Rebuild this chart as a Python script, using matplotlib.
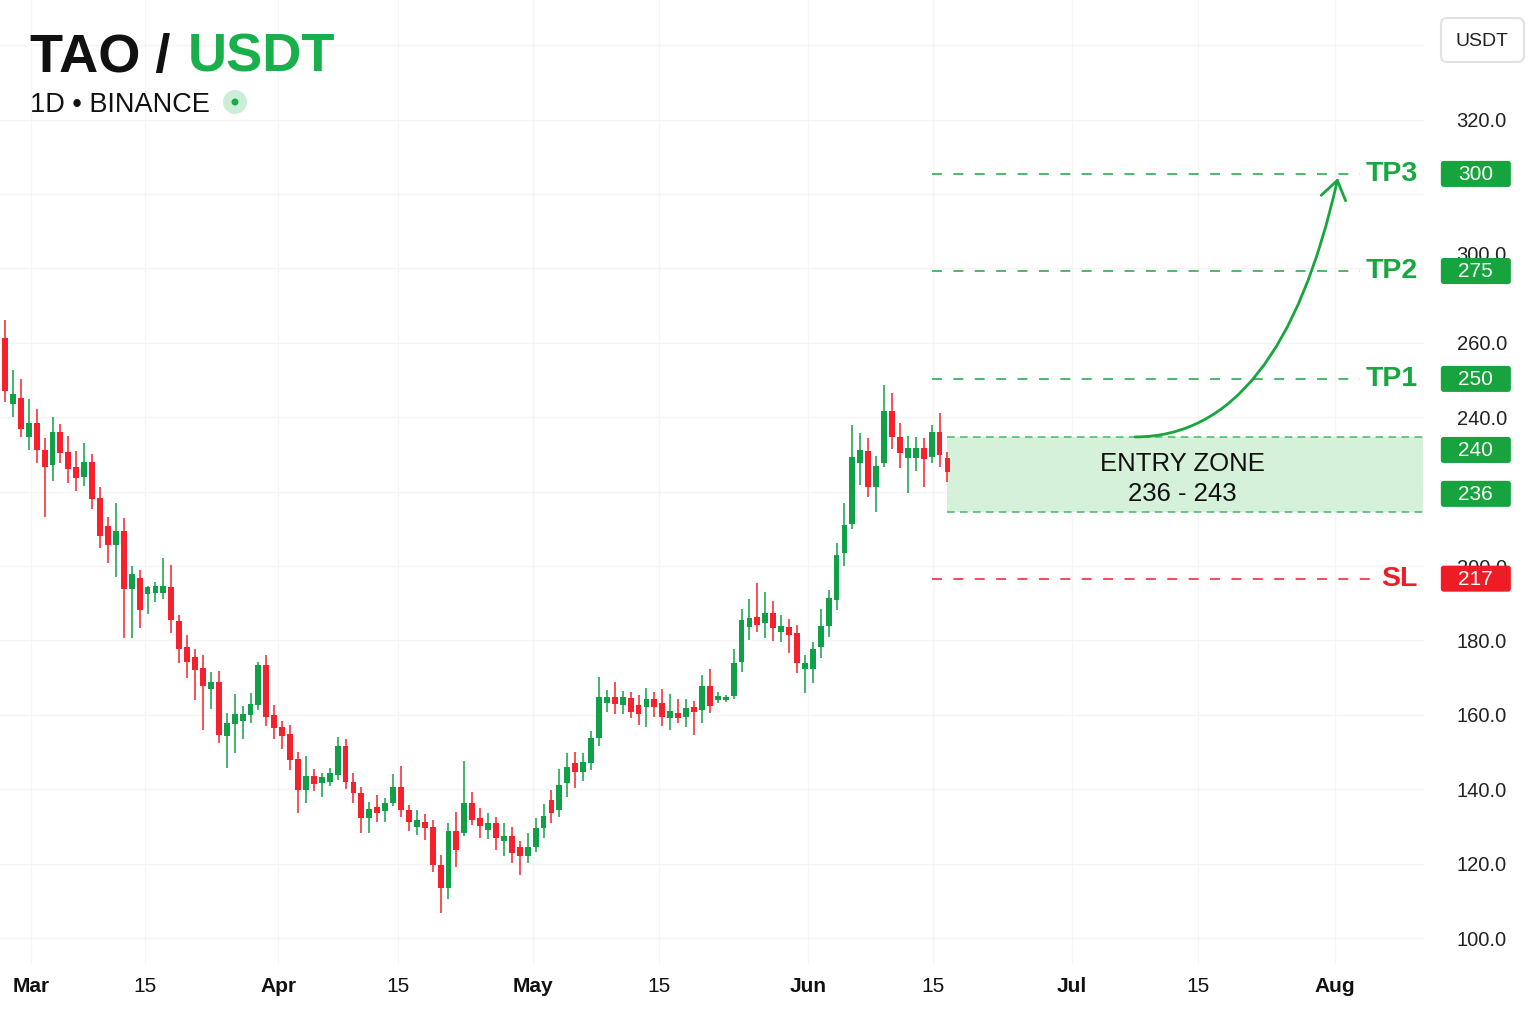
import matplotlib
matplotlib.use("Agg")
import matplotlib.pyplot as plt
from matplotlib.patches import FancyBboxPatch, FancyArrowPatch, Ellipse, Rectangle
from matplotlib.path import Path
import numpy as np

plt.rcParams['font.family'] = ['Liberation Sans', 'DejaVu Sans']

# ---------------- DATA ----------------
opens = [261.3, 243.6, 245.2, 234.7, 238.4, 231.2, 227.1, 236.0, 230.7, 226.6,
         223.9, 228.0, 218.3, 210.8, 205.6, 209.4, 193.8, 196.8, 192.5, 192.8,
         192.8, 194.3, 185.2, 178.2, 175.5, 172.6, 166.9, 168.8, 154.3, 157.5,
         158.3, 159.9, 162.6, 173.4, 159.9, 156.7, 154.9, 148.1, 139.8, 143.6,
         141.7, 141.9, 143.8, 151.6, 141.9, 139.0, 132.3, 135.2, 134.1, 136.3,
         140.6, 134.4, 129.9, 131.2, 129.9, 119.6, 113.5, 128.8, 128.2, 136.3,
         132.3, 129.1, 130.9, 126.1, 127.4, 124.5, 122.1, 124.5, 129.6, 137.1,
         134.4, 141.7, 147.1, 144.6, 147.1, 153.8, 163.2, 164.8, 162.6, 164.5,
         162.6, 162.1, 164.2, 163.2, 159.1, 160.5, 159.4, 162.1, 161.3, 167.8,
         164.0, 164.0, 165.1, 174.2, 183.6, 186.3, 184.7, 187.4, 182.3, 183.6,
         182.0, 172.3, 172.3, 178.2, 183.9, 190.9, 203.5, 211.3, 227.7, 230.9,
         221.2, 227.7, 241.7, 234.7, 229.0, 229.0, 231.7, 229.3, 236.0, 229.0]
highs = [266.1, 252.7, 250.3, 244.9, 242.2, 234.4, 240.1, 238.2, 234.9, 230.9,
         233.1, 230.1, 221.2, 213.2, 216.9, 212.9, 200.0, 198.9, 194.6, 195.7,
         202.2, 200.3, 186.8, 181.5, 177.7, 176.1, 171.5, 171.8, 160.5, 165.6,
         162.4, 165.9, 174.2, 176.1, 162.6, 158.3, 157.3, 150.0, 148.9, 145.4,
         144.4, 145.7, 154.0, 153.5, 144.4, 140.6, 136.6, 138.4, 137.6, 144.1,
         146.2, 135.8, 134.4, 133.3, 131.7, 122.3, 130.9, 133.9, 147.6, 139.3,
         135.0, 133.6, 132.5, 130.9, 129.9, 126.1, 128.2, 132.3, 136.0, 139.8,
         145.4, 149.7, 150.0, 149.7, 155.6, 170.2, 166.6, 168.8, 166.4, 166.1,
         165.3, 167.2, 166.1, 166.9, 165.6, 164.2, 164.2, 163.7, 170.7, 172.3,
         166.1, 165.3, 177.7, 188.4, 191.1, 195.4, 193.0, 190.6, 186.8, 185.8,
         184.2, 176.1, 179.6, 188.4, 193.6, 206.2, 216.9, 237.9, 235.8, 234.4,
         229.6, 248.6, 246.5, 238.4, 234.9, 234.7, 234.4, 237.9, 241.1, 230.6]
lows = [244.1, 240.1, 234.7, 231.2, 227.7, 213.2, 222.9, 227.7, 222.3, 220.2,
        221.5, 215.3, 204.8, 200.8, 197.0, 180.6, 180.6, 183.3, 187.1, 190.3,
        191.1, 182.0, 173.9, 169.9, 164.0, 155.9, 161.6, 152.4, 145.7, 149.7,
        153.5, 157.8, 161.3, 157.0, 153.5, 150.8, 145.2, 133.6, 136.3, 139.5,
        137.9, 140.9, 142.5, 140.1, 136.3, 128.2, 128.2, 131.2, 131.2, 135.5,
        132.5, 128.8, 127.7, 126.4, 117.8, 106.7, 110.5, 119.1, 127.4, 130.4,
        126.9, 126.6, 123.7, 122.1, 120.2, 117.0, 120.2, 123.1, 126.9, 130.9,
        132.5, 137.9, 140.3, 142.2, 145.2, 151.6, 160.8, 160.2, 160.2, 159.1,
        157.3, 156.7, 159.4, 157.0, 155.9, 157.8, 156.7, 154.6, 157.8, 160.5,
        163.2, 163.4, 164.3, 171.5, 180.1, 182.3, 180.6, 179.8, 179.6, 176.6,
        171.2, 165.9, 168.6, 175.3, 180.9, 188.2, 200.0, 209.9, 221.8, 218.6,
        214.5, 226.6, 231.5, 226.3, 219.6, 225.5, 221.2, 227.7, 226.6, 222.6]
closes = [247.1, 246.2, 236.8, 238.4, 231.2, 226.6, 236.0, 230.4, 226.1, 223.6,
          228.0, 218.0, 208.1, 205.6, 209.4, 193.8, 197.9, 188.2, 194.3, 194.6,
          194.6, 185.5, 177.7, 174.2, 172.1, 167.8, 168.8, 154.6, 157.8, 160.2,
          160.2, 162.9, 173.4, 159.4, 156.5, 154.3, 147.9, 139.8, 143.6, 141.4,
          143.3, 144.4, 151.6, 141.9, 139.0, 132.3, 134.7, 133.6, 136.3, 140.6,
          134.4, 131.2, 131.7, 129.6, 119.6, 113.5, 128.8, 123.7, 136.3, 131.7,
          130.1, 130.9, 126.9, 127.4, 122.9, 122.1, 124.5, 129.6, 132.8, 133.6,
          141.1, 146.0, 144.6, 147.3, 153.8, 164.8, 164.8, 162.9, 164.8, 160.8,
          160.2, 164.2, 162.1, 159.4, 161.0, 159.1, 161.8, 160.8, 167.8, 162.4,
          165.1, 164.8, 173.9, 185.5, 186.0, 184.2, 187.4, 183.3, 183.9, 181.5,
          173.9, 173.9, 177.7, 183.9, 191.4, 203.0, 211.0, 229.3, 231.2, 221.2,
          226.9, 241.7, 234.7, 230.4, 231.7, 231.7, 228.8, 236.0, 229.8, 225.3]

x_tick_pos = [3.3, 17.7, 34.5, 49.6, 66.7, 82.6, 101.4, 117.2, 134.7, 150.6, 167.9]
x_tick_labels = ['Mar', '15', 'Apr', '15', 'May', '15', 'Jun', '15', 'Jul', '15', 'Aug']
month_labels = ['Mar', 'Apr', 'May', 'Jun', 'Jul', 'Aug']

y_ticks = [100, 120, 140, 160, 180, 200, 220, 240, 260, 280, 300, 320, 340]
y_tick_labels = ['100.0', '120.0', '140.0', '160.0', '180.0', '200.0', '',
                 '240.0', '260.0', '', '', '320.0', '']
extra_tick_pos = [284.1]
extra_tick_labels = ['300.0']

level_names = ['TP3', 'TP2', 'TP1', 'SL']
level_values = [305.4, 279.3, 250.3, 196.6]
level_badges = ['300', '275', '250', '217']

entry_low = 214.5
entry_high = 234.7
entry_label = 'ENTRY ZONE'
entry_range_label = '236 - 243'
entry_badges = ['240', '236']
entry_badge_values = [231.2, 219.4]

arrow_start = (142.7, 234.7)
arrow_ctrl = (161.0, 234.7)
arrow_end = (168.3, 304.3)

# ---------------- STYLE ----------------
GREEN = '#10a048'
RED = '#f5222d'
LBL_GREEN = '#19a640'
LBL_RED = '#f01c28'
BADGE_GREEN = '#17a33e'
BADGE_RED = '#ee1d25'

W, H = 1536, 1024
fig = plt.figure(figsize=(W / 100, H / 100), dpi=100)
fig.patch.set_facecolor('white')
ax = fig.add_axes([0, 1 - 965 / H, 1425 / W, 965 / H])
ax.set_xlim(-0.63, 179.3)
ax.set_ylim(92.75, 352.15)
for s in ax.spines.values():
    s.set_visible(False)

# candles
x = np.arange(len(opens))
o = np.array(opens); c = np.array(closes); hi = np.array(highs); lo = np.array(lows)
cols = [GREEN if cc >= oo else RED for oo, cc in zip(o, c)]
ax.vlines(x, lo, hi, colors=cols, lw=1.1, zorder=3)
body_h = np.maximum(np.abs(c - o), 0.6)
ax.bar(x, body_h, bottom=np.minimum(o, c), width=0.74, color=cols, zorder=4, linewidth=0)

# ticks / grid
ax.set_axisbelow(True)
ax.grid(True, which='major', color='#f5f5f5', lw=0.9)
ax.yaxis.tick_right()
ax.set_yticks(y_ticks)
ax.set_yticklabels(y_tick_labels)
ax.set_yticks(extra_tick_pos, minor=True)
ax.set_yticklabels(extra_tick_labels, minor=True)
ax.tick_params(axis='y', which='both', length=0, pad=59, labelsize=14.5, labelcolor='#222222')
for lab in ax.get_yticklabels(which='both'):
    lab.set_horizontalalignment('right')
ax.set_xticks(x_tick_pos)
ax.set_xticklabels(x_tick_labels)
ax.tick_params(axis='x', length=0, pad=9, labelsize=15, labelcolor='#111111')
for lab in ax.get_xticklabels():
    if lab.get_text() in month_labels:
        lab.set_fontweight('bold')

# entry zone
ax.add_patch(Rectangle((118.94, entry_low), 179.0 - 118.94, entry_high - entry_low,
                       facecolor='#d6f1da', edgecolor='none', zorder=2))
for yv in (entry_low, entry_high):
    ax.plot([118.94, 179.0], [yv, yv], color='#45b864', lw=1.1, dashes=(5, 3.5), zorder=2.5)
ax.text(148.7, 227.4, entry_label, ha='center', va='center', fontsize=18.5, color='#111111', zorder=6)
ax.text(148.7, 219.4, entry_range_label, ha='center', va='center', fontsize=18.5, color='#111111', zorder=6)

# levels
line_ends = [171.1, 171.1, 171.1, 172.3]
for name, val, le in zip(level_names, level_values, line_ends):
    lc = LBL_RED if name == 'SL' else LBL_GREEN
    ax.plot([117.05, le], [val, val], color=lc, lw=1.1, dashes=(6.5, 7.5), zorder=2.5)
    ax.text(178.4, val, name, ha='right', va='center', fontsize=20.5, fontweight='bold', color=lc, zorder=6)

def badge(val, txt, color):
    bx = FancyBboxPatch((181.3, val - 3.5), 8.84, 7.0,
                        boxstyle='round,pad=0,rounding_size=0.35', mutation_aspect=2.13,
                        facecolor=color, edgecolor='none', clip_on=False, zorder=7)
    ax.add_patch(bx)
    ax.text(185.72, val - 0.1, txt, ha='center', va='center', fontsize=15, color='white',
            clip_on=False, zorder=8)

for name, val, b in zip(level_names, level_values, level_badges):
    badge(val, b, BADGE_RED if name == 'SL' else BADGE_GREEN)
for val, b in zip(entry_badge_values, entry_badges):
    badge(val, b, BADGE_GREEN)

# arrow
path = Path([arrow_start, arrow_ctrl, arrow_end], [Path.MOVETO, Path.CURVE3, Path.CURVE3])
arr = FancyArrowPatch(path=path, arrowstyle='->,head_length=0.65,head_width=0.45',
                      mutation_scale=20, color='#17a63c', lw=2.0, zorder=6)
ax.add_patch(arr)

# title
fig.text(30 / W, 1 - 72 / H, 'TAO /', fontsize=39, fontweight='bold', color='#111111', va='baseline')
fig.text(188 / W, 1 - 72 / H, 'USDT', fontsize=39, fontweight='bold', color='#17b04a', va='baseline')
fig.text(30 / W, 1 - 112 / H, '1D \u2022 BINANCE', fontsize=19.5, color='#111111', va='baseline')
fig.add_artist(Ellipse((235 / W, 1 - 102 / H), 24 / W, 24 / H, transform=fig.transFigure,
                       facecolor='#cdeed6', edgecolor='none'))
fig.add_artist(Ellipse((235 / W, 1 - 102 / H), 7 / W, 7 / H, transform=fig.transFigure,
                       facecolor='#1aa84a', edgecolor='none'))

# USDT box
fig.add_artist(FancyBboxPatch((1441 / W, 1 - 62 / H), 83 / W, 44 / H,
                              boxstyle='round,pad=0,rounding_size=0.004', mutation_aspect=1.5,
                              transform=fig.transFigure, facecolor='white', edgecolor='#e2e2e2', lw=1.5))
fig.text(1482 / W, 1 - 41 / H, 'USDT', fontsize=14, color='#222222', ha='center', va='center')

fig.savefig('out.png', dpi=100, facecolor='white')
